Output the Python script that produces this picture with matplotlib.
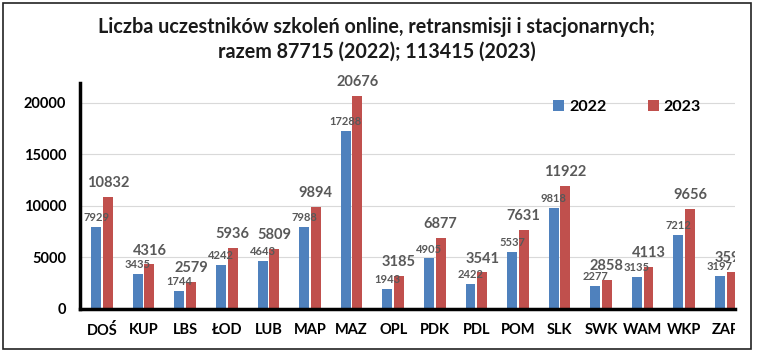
import matplotlib
matplotlib.use("Agg")
import matplotlib.pyplot as plt
import numpy as np
from matplotlib.patches import Rectangle
from matplotlib.transforms import Bbox, TransformedBbox

regions = ["DOŚ", "KUP", "LBS", "ŁOD", "LUB", "MAP", "MAZ", "OPL",
           "PDK", "PDL", "POM", "SLK", "SWK", "WAM", "WKP", "ZAP"]
y2022 = [7929, 3435, 1744, 4242, 4643, 7988, 17288, 1943,
         4905, 2422, 5537, 9818, 2277, 3135, 7212, 3197]
y2023 = [10832, 4316, 2579, 5936, 5809, 9894, 20676, 3185,
         6877, 3541, 7631, 11922, 2858, 4113, 9656, 3590]
yticks = [0, 5000, 10000, 15000, 20000]

plt.rcParams['font.family'] = ['Lato', 'DejaVu Sans']
plt.rcParams['font.weight'] = 'bold'

blue = '#4f81bd'
red = '#c0504d'
lab = '#595959'

fig = plt.figure(figsize=(7.57, 3.56), dpi=100)
ax = fig.add_axes([80/757, 1-309/356, (735-80)/757, (309-83)/356])

# everything is cut at the right edge of the plot, like in the original
clip = TransformedBbox(Bbox([[0, 0], [735/757, 1]]), fig.transFigure)

x = np.arange(len(regions))
w = 0.24
off = 0.14
ax.bar(x - off, y2022, w, color=blue, label='2022', zorder=3)
ax.bar(x + off, y2023, w, color=red, label='2023', zorder=3)

for xi, v in zip(x, y2022):
    t = ax.text(xi - off, v + 900, str(v), ha='center', va='center',
                fontsize=8, color=lab, fontweight='bold', zorder=4)
    t.set_clip_box(clip)
    t.set_clip_on(True)
for xi, v in zip(x, y2023):
    t = ax.text(xi + off, v + 1350, str(v), ha='center', va='center',
                fontsize=10.5, color=lab, fontweight='bold', zorder=4)
    t.set_clip_box(clip)
    t.set_clip_on(True)

ax.set_xlim(-0.53, 15.22)
ax.set_ylim(0, 21900)
ax.set_yticks(yticks)
ax.set_xticks(x)
ax.set_xticklabels(regions, fontsize=10.5, fontweight='bold')
ax.tick_params(axis='y', labelsize=10.5, length=0, pad=10)
ax.tick_params(axis='x', length=0, pad=10)
ax.grid(axis='y', color='#d9d9d9', lw=0.8, zorder=0)
for s in ['top', 'right']:
    ax.spines[s].set_visible(False)
ax.spines['left'].set_linewidth(2.5)
ax.spines['bottom'].set_linewidth(2.5)
ax.spines['bottom'].set_zorder(5)

for t in ax.get_xticklabels():
    t.set_clip_box(clip)
    t.set_clip_on(True)

ax.legend(ncol=2, frameon=False, loc='center',
          bbox_to_anchor=(627/757, 1-107/356), bbox_transform=fig.transFigure,
          handlelength=0.7, handleheight=0.7, handletextpad=0.3,
          columnspacing=2.6, prop={'size': 11.5, 'weight': 'bold'})

fig.text(0.498, 1-39/356,
         "Liczba uczestników szkoleń online, retransmisji i stacjonarnych;\n"
         "razem 87715 (2022); 113415 (2023)",
         ha='center', va='center', fontsize=14.2, fontweight='bold',
         linespacing=1.3, color='#1a1a1a')

fig.patches.append(Rectangle((3/757, 7/356), 748/757, 346/356,
                             transform=fig.transFigure, fill=False,
                             edgecolor='#222222', lw=1.2))

fig.savefig('out.png', dpi=100)
